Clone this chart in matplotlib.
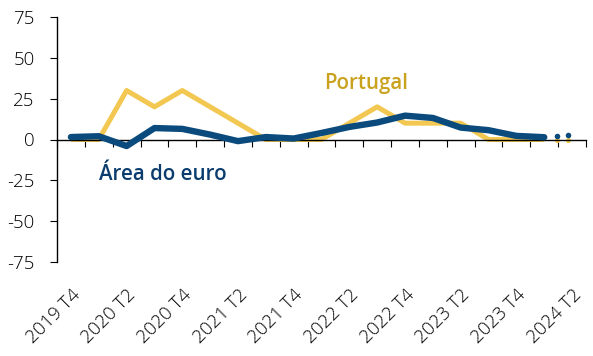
import numpy as np
import matplotlib
matplotlib.use("Agg")
import matplotlib.pyplot as plt

plt.rcParams['font.family'] = ['Open Sans', 'DejaVu Sans']
plt.rcParams['axes.unicode_minus'] = False

quarters = ["2019 T4", "2020 T1", "2020 T2", "2020 T3", "2020 T4",
            "2021 T1", "2021 T2", "2021 T3", "2021 T4",
            "2022 T1", "2022 T2", "2022 T3", "2022 T4",
            "2023 T1", "2023 T2", "2023 T3", "2023 T4",
            "2024 T1", "2024 T2"]
portugal = [0, 0, 30, 20, 30, 20, 10, 0, 0, 0, 10, 20, 10, 10, 10, 0, 0, 0]
euro_area = [1.5, 2, -4, 7, 6.5, 3, -1, 1.5, 0.6, 4, 7.7, 10.4, 14.6, 13.2,
             7.3, 5.7, 2.2, 1.4]
# latest monthly readings (shown as dots)
dot_pos = [17.45, 17.85]
portugal_dots = [0, 0]
euro_dots = [2, 2.5]

yellow = "#F3C852"
blue = "#0B4A7C"

fig = plt.figure(figsize=(5.93, 3.56), dpi=100)
ax = fig.add_axes([57/593, 94/356, 529/593, 245/356])

x = np.arange(len(portugal))
ax.plot(x, portugal, color=yellow, lw=3.6, solid_capstyle='butt', zorder=2)
ax.plot(x, euro_area, color=blue, lw=4.6, solid_capstyle='round', zorder=3)
ax.scatter(dot_pos, portugal_dots, s=14, color=yellow, zorder=2, linewidths=0)
ax.scatter(dot_pos, euro_dots, s=16, color=blue, zorder=3, linewidths=0)

ax.set_xlim(-0.5, len(quarters) - 0.5)
ax.set_ylim(-75, 75)
ax.set_yticks([-75, -50, -25, 0, 25, 50, 75])
ax.tick_params(axis='y', length=5, width=0.8, labelsize=13.5, pad=11,
               colors='black')
for lab in ax.get_yticklabels():
    lab.set_fontweight('light')

for side in ['top', 'right']:
    ax.spines[side].set_visible(False)
ax.spines['left'].set_linewidth(1.0)
ax.spines['bottom'].set_position(('data', 0))
ax.spines['bottom'].set_linewidth(1.0)
ax.set_xticks(np.arange(-0.5, len(quarters)), labels=[])
ax.tick_params(axis='x', length=5, width=0.8, direction='out')

sec = ax.secondary_xaxis('bottom')
sec.spines['bottom'].set_visible(False)
sec.set_xticks(np.arange(0, len(quarters), 2),
               labels=quarters[::2])
sec.tick_params(axis='x', length=0, pad=17, labelsize=13.5)
for lab in sec.get_xticklabels():
    lab.set_rotation(45)
    lab.set_ha('right')
    lab.set_rotation_mode('anchor')
    lab.set_fontweight('light')

ax.text(9.1, 31, "Portugal", color="#C9A21E", fontsize=14.8,
        fontweight='semibold')
ax.text(1.0, -24.5, "Área do euro", color="#0B3C6E", fontsize=14.8,
        fontweight='semibold')

fig.savefig("out.png", dpi=100)
